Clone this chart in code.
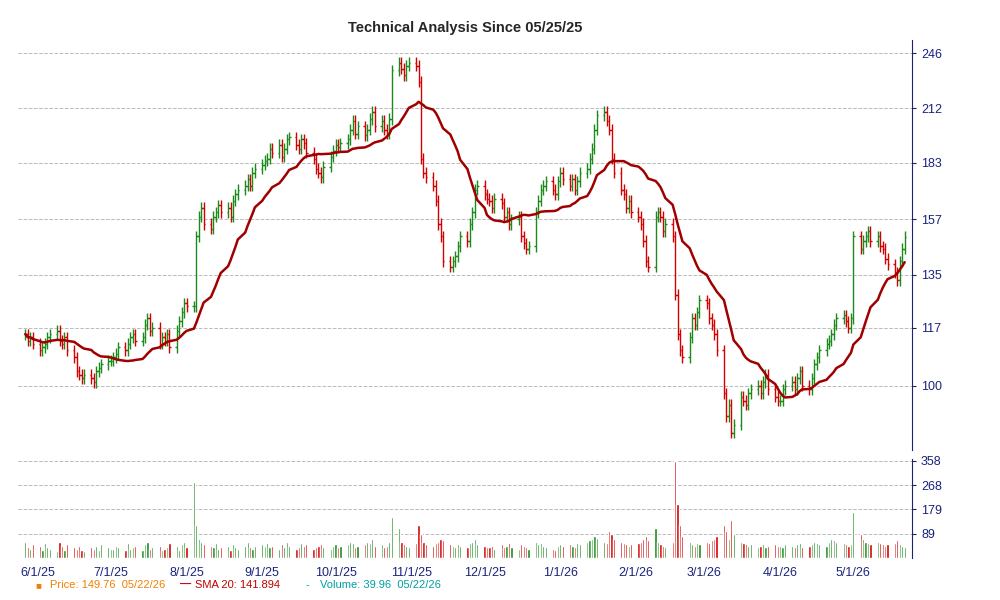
import numpy as np, pandas as pd, matplotlib
matplotlib.use("Agg")
import matplotlib.pyplot as plt, seaborn as sns

close = [115,113,114,112,
 110,111,112,114,115,116,113,112,114,110,108,104,103,102,103,102,101,104,105,106,107,107,
 108,109,111,110,112,114,115,113,114,118,120,116,117,112,114,113,115,111,116,119,122,125,124,
 124,150,158,162,155,153,158,160,163,160,162,158,165,168,170,172,175,172,178,180,182,184,
 185,190,188,192,186,190,195,196,192,190,195,193,188,185,180,178,176,181,186,189,192,191,
 193,195,200,205,198,202,197,200,206,210,202,205,200,198,206,235,240,236,232,238,240,238,228,
 185,178,176,172,165,155,150,140,138,140,142,146,150,148,155,160,170,172,168,166,
 165,162,166,164,158,160,155,157,158,150,147,145,146,160,165,170,172,174,170,168,174,178,175,
 172,175,170,174,178,180,185,190,200,208,210,205,200,185,178,170,168,162,165,160,158,
 155,148,140,138,158,160,158,152,155,150,128,115,110,108,114,120,118,122,126,
 125,120,118,115,110,98,92,95,88,90,97,96,95,98,99,100,98,101,103,99,97,96,
 96,99,100,101,99,102,104,100,99,102,106,108,110,112,113,115,118,120,121,119,117,120,
 150,145,148,150,152,148,150,146,145,141,139,136,133,140,145,149.76]
volume = [60,40,35,50,
 45,30,55,40,35,25,60,45,30,50,40,35,45,30,25,40,35,45,30,50,40,35,
 35,45,40,30,55,35,40,45,30,50,60,35,40,45,30,35,40,55,45,30,50,60,40,
 280,120,70,60,50,45,40,55,35,40,45,30,50,40,35,45,60,40,35,45,50,45,
 55,40,45,35,50,40,60,45,35,40,55,45,50,35,40,45,50,40,35,45,50,40,
 45,50,60,55,40,45,50,60,55,70,45,50,40,45,60,150,110,60,50,45,40,55,120,
 90,60,50,45,55,60,70,65,50,45,40,50,45,40,55,60,70,50,45,40,
 40,45,35,50,40,45,55,40,35,50,45,40,35,60,50,55,45,40,35,30,45,50,45,
 50,45,40,55,50,60,65,70,80,75,60,55,100,90,70,60,55,50,45,50,55,
 60,70,80,65,110,60,50,45,40,60,358,200,120,80,60,50,45,55,50,
 60,55,65,70,80,120,100,70,140,90,60,55,50,45,50,40,45,50,40,45,50,45,
 45,40,50,45,40,50,55,40,45,50,60,55,50,45,60,70,65,60,55,50,45,50,
 170,90,70,60,55,50,60,55,50,45,50,55,65,50,45,39.96]

dates = pd.bdate_range(end="2026-05-22", periods=len(close))
df = pd.DataFrame({"date": dates, "close": close, "volume": volume})
df["prev"] = df["close"].shift(1).fillna(df["close"])
df["up"] = df["close"] >= df["prev"]
df["sma"] = df["close"].rolling(20, min_periods=1).mean()
x = matplotlib.dates.date2num(df["date"])

sns.set_style("white")
plt.rcParams['font.family'] = ['Liberation Sans', 'DejaVu Sans']
fig = plt.figure(figsize=(10, 6), dpi=100)
ax = fig.add_axes([0.018, 0.25, 0.894, 0.683])
axv = fig.add_axes([0.018, 0.07, 0.894, 0.165], sharex=ax)
green, red = "#1a8a1a", "#d40000"
for xi, r in zip(x, df.itertuples()):
    c = green if r.up else red
    lo, hi = min(r.prev, r.close) * 0.985, max(r.prev, r.close) * 1.015
    ax.vlines(xi, lo, hi, color=c, lw=1)
    ax.hlines(r.close, xi, xi + 0.6, color=c, lw=1)
    ax.hlines(r.prev, xi - 0.6, xi, color=c, lw=1)
sns.lineplot(x=x, y=df["sma"], ax=ax, color="#a00000", lw=1.8)
ax.set_yscale("log")
yt = [100, 117, 135, 157, 183, 212, 246]
ax.set_yticks(yt); ax.set_yticklabels([str(v) for v in yt])
ax.minorticks_off()
ax.set_ylim(84, 255)
ax.yaxis.tick_right()
ax.grid(axis="y", color="#bbbbbb", ls="--", lw=0.7)
ax.set_ylabel(""); ax.tick_params(labelbottom=False, labelsize=9, labelcolor="#1a237e", length=3, right=True)
ax.set_title("Technical Analysis Since 05/25/25", fontsize=10.5, fontweight="bold")

axv.bar(x, df["volume"], width=0.9, color=np.where(df["up"], green, red))
vt = [89, 179, 268, 358]
axv.set_yticks(vt); axv.set_ylim(0, 365)
axv.yaxis.tick_right()
axv.grid(axis="y", color="#bbbbbb", ls="--", lw=0.7)
axv.tick_params(labelsize=9, labelcolor="#1a237e", length=3, right=True)
ticks = pd.date_range("2025-06-01", "2026-05-01", freq="MS")
axv.set_xticks(matplotlib.dates.date2num(ticks))
axv.set_xticklabels([f"{d.month}/1/{d.strftime('%y')}" for d in ticks], fontsize=9)
axv.set_xlim(x[0] - 3, x[-1] + 3)
for a in (ax, axv):
    for k, s in a.spines.items():
        s.set_color("#1a237e")
        s.set_visible(k == "right")

fig.text(0.035, 0.02, "■", color="#f08000", fontsize=7)
fig.text(0.05, 0.02, "Price: 149.76  05/22/26", color="#f08000", fontsize=8)
fig.text(0.18, 0.02, "—", color="#c00000", fontsize=8, fontweight="bold")
fig.text(0.195, 0.02, "SMA 20: 141.894", color="#c00000", fontsize=8)
fig.text(0.305, 0.02, "-", color="#00a0a0", fontsize=8)
fig.text(0.32, 0.02, "Volume: 39.96  05/22/26", color="#00a0a0", fontsize=8)
fig.savefig("out.png", dpi=100)
